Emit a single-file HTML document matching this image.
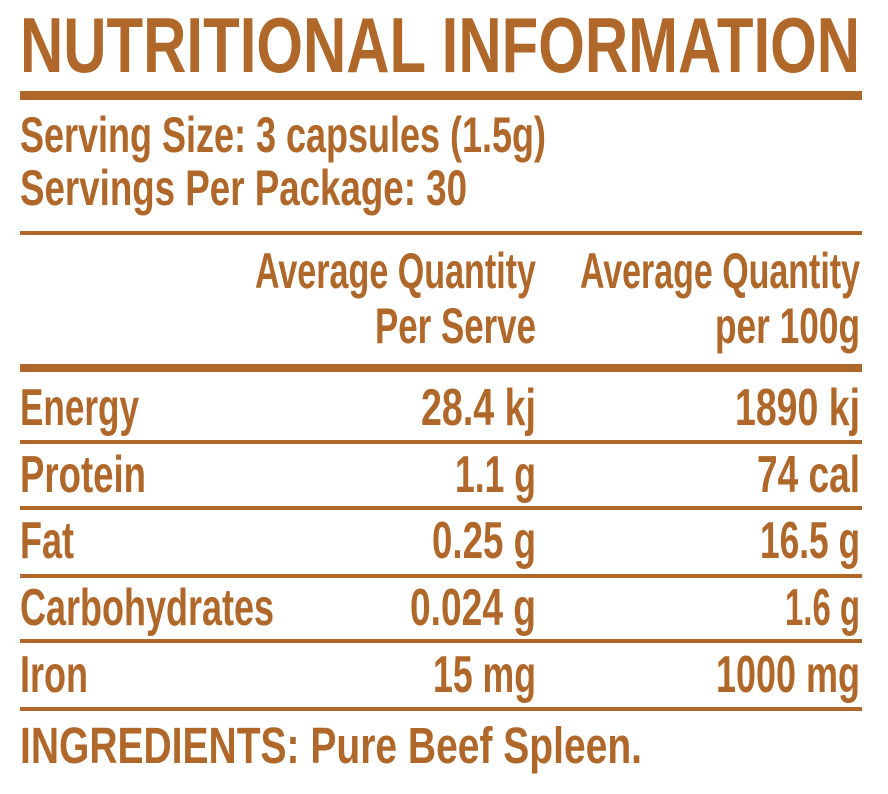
<!DOCTYPE html>
<html><head><meta charset="utf-8"><style>html,body{margin:0;padding:0;background:#fff;}svg{display:block}</style></head>
<body>
<svg width="888" height="794" viewBox="0 0 888 794" xmlns="http://www.w3.org/2000/svg">
<g fill="#b0672a" font-family="Liberation Sans, Arial, sans-serif" font-weight="bold">
<text x="20" y="72" font-size="78" textLength="840" lengthAdjust="spacingAndGlyphs">NUTRITIONAL INFORMATION</text>
<rect x="20" y="91" width="842" height="9"/>
<text x="20" y="152" font-size="50" textLength="526" lengthAdjust="spacingAndGlyphs">Serving Size: 3 capsules (1.5g)</text>
<text x="20" y="205" font-size="50" textLength="447" lengthAdjust="spacingAndGlyphs">Servings Per Package: 30</text>
<rect x="20" y="231" width="842" height="4"/>
<text x="255" y="288" font-size="50" textLength="281" lengthAdjust="spacingAndGlyphs">Average Quantity</text>
<text x="375" y="343" font-size="50" textLength="161" lengthAdjust="spacingAndGlyphs">Per Serve</text>
<text x="580" y="288" font-size="50" textLength="280" lengthAdjust="spacingAndGlyphs">Average Quantity</text>
<text x="715" y="343" font-size="50" textLength="145" lengthAdjust="spacingAndGlyphs">per 100g</text>
<rect x="20" y="364" width="842" height="8"/>
<text x="20" y="425" font-size="52" textLength="119" lengthAdjust="spacingAndGlyphs">Energy</text>
<text x="421" y="425" font-size="52" textLength="115" lengthAdjust="spacingAndGlyphs">28.4 kj</text>
<text x="735" y="425" font-size="52" textLength="125" lengthAdjust="spacingAndGlyphs">1890 kj</text>
<rect x="20" y="440" width="842" height="4"/>
<text x="20" y="492" font-size="52" textLength="126" lengthAdjust="spacingAndGlyphs">Protein</text>
<text x="455" y="492" font-size="52" textLength="81" lengthAdjust="spacingAndGlyphs">1.1 g</text>
<text x="757" y="492" font-size="52" textLength="103" lengthAdjust="spacingAndGlyphs">74 cal</text>
<rect x="20" y="506" width="842" height="4"/>
<text x="20" y="558" font-size="52" textLength="54" lengthAdjust="spacingAndGlyphs">Fat</text>
<text x="432" y="558" font-size="52" textLength="104" lengthAdjust="spacingAndGlyphs">0.25 g</text>
<text x="760" y="558" font-size="52" textLength="100" lengthAdjust="spacingAndGlyphs">16.5 g</text>
<rect x="20" y="574" width="842" height="4"/>
<text x="20" y="625" font-size="52" textLength="254" lengthAdjust="spacingAndGlyphs">Carbohydrates</text>
<text x="410" y="625" font-size="52" textLength="126" lengthAdjust="spacingAndGlyphs">0.024 g</text>
<text x="785" y="625" font-size="52" textLength="75" lengthAdjust="spacingAndGlyphs">1.6 g</text>
<rect x="20" y="639" width="842" height="4"/>
<text x="20" y="692" font-size="52" textLength="68" lengthAdjust="spacingAndGlyphs">Iron</text>
<text x="433" y="692" font-size="52" textLength="103" lengthAdjust="spacingAndGlyphs">15 mg</text>
<text x="716" y="692" font-size="52" textLength="144" lengthAdjust="spacingAndGlyphs">1000 mg</text>
<rect x="20" y="707" width="842" height="4"/>
<text x="20" y="763" font-size="51" textLength="622" lengthAdjust="spacingAndGlyphs">INGREDIENTS: Pure Beef Spleen.</text>
</g>
</svg>
</body></html>
